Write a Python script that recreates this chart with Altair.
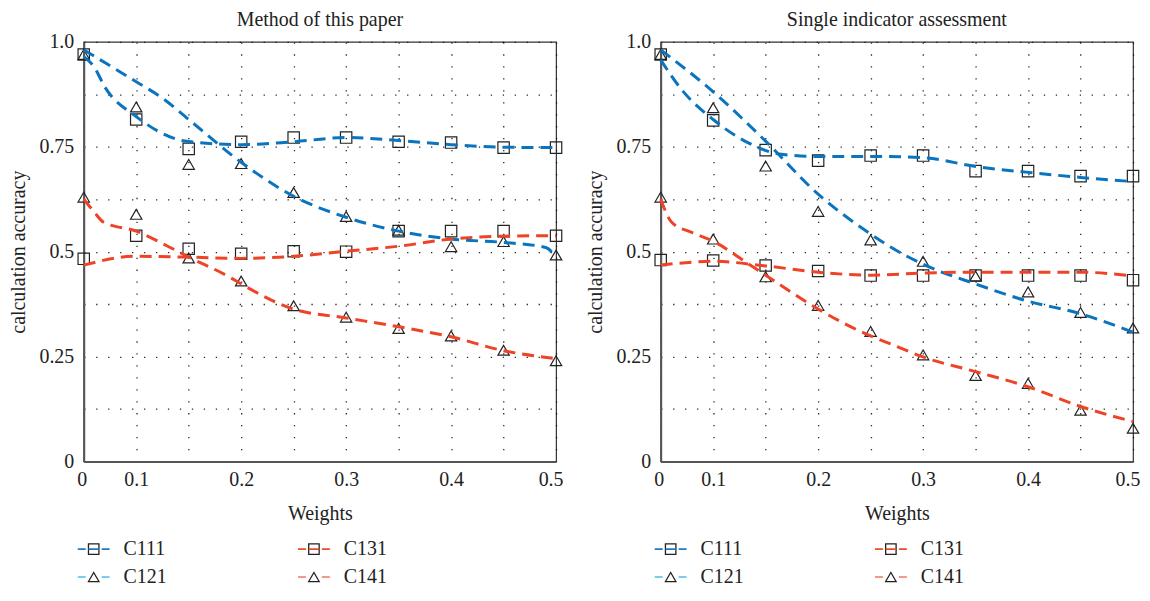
import altair as alt
import pandas as pd

# ---------------- data ----------------
WEIGHTS = [0, 0.1, 0.15, 0.2, 0.25, 0.3, 0.35, 0.4, 0.45, 0.5]
SERIES = ["C111", "C121", "C131", "C141"]
PANEL_TITLES = ["Method of this paper", "Single indicator assessment"]
X_TICK_LABELS = [0, 0.1, 0.2, 0.3, 0.4, 0.5]
Y_GRID = [0, 0.125, 0.25, 0.375, 0.5, 0.625, 0.75, 0.875, 1.0]
Y_TICK_LABELS = [0, 0.25, 0.5, 0.75, 1.0]

# markers, left panel (Method of this paper)
L_C111 = [0.970, 0.815, 0.745, 0.762, 0.772, 0.772, 0.762, 0.760, 0.748, 0.748]
L_C121 = [0.970, 0.845, 0.708, 0.710, 0.641, 0.584, 0.551, 0.512, 0.524, 0.492]
L_C131 = [0.483, 0.538, 0.507, 0.495, 0.501, 0.500, 0.549, 0.549, 0.549, 0.538]
L_C141 = [0.630, 0.589, 0.485, 0.430, 0.371, 0.344, 0.317, 0.299, 0.265, 0.240]

# markers, right panel (Single indicator assessment)
R_C111 = [0.970, 0.813, 0.742, 0.717, 0.729, 0.729, 0.692, 0.692, 0.680, 0.680]
R_C121 = [0.970, 0.843, 0.704, 0.596, 0.528, 0.477, 0.442, 0.404, 0.355, 0.318]
R_C131 = [0.480, 0.479, 0.467, 0.454, 0.443, 0.443, 0.443, 0.443, 0.443, 0.432]
R_C141 = [0.630, 0.530, 0.440, 0.372, 0.310, 0.254, 0.205, 0.186, 0.122, 0.079]

# fitted curves (dashed)
L_C111_FX = [0, 0.02, 0.04, 0.1, 0.14, 0.16, 0.2, 0.25, 0.3, 0.35, 0.4, 0.45, 0.5]
L_C111_FY = [0.965, 0.940, 0.893, 0.822, 0.767, 0.760, 0.755, 0.762, 0.772, 0.765, 0.755, 0.749, 0.748]
L_C121_FX = [0, 0.1, 0.125, 0.15, 0.2, 0.25, 0.3, 0.35, 0.4, 0.45, 0.49, 0.5]
L_C121_FY = [0.981, 0.905, 0.866, 0.815, 0.713, 0.632, 0.582, 0.549, 0.530, 0.522, 0.510, 0.487]
L_C131_FX = [0, 0.1, 0.15, 0.2, 0.25, 0.3, 0.35, 0.4, 0.45, 0.5]
L_C131_FY = [0.468, 0.489, 0.487, 0.484, 0.489, 0.501, 0.513, 0.530, 0.537, 0.538]
L_C141_FX = [0, 0.019, 0.038, 0.1, 0.13, 0.15, 0.187, 0.2, 0.25, 0.3, 0.35, 0.4, 0.45, 0.5]
L_C141_FY = [0.625, 0.596, 0.570, 0.549, 0.513, 0.487, 0.442, 0.423, 0.363, 0.342, 0.321, 0.297, 0.264, 0.245]

R_C111_FX = [0, 0.04, 0.1, 0.133, 0.165, 0.2, 0.25, 0.3, 0.35, 0.4, 0.45, 0.5]
R_C111_FY = [0.957, 0.886, 0.815, 0.760, 0.732, 0.727, 0.727, 0.724, 0.703, 0.689, 0.677, 0.667]
R_C121_FX = [0, 0.1, 0.1485, 0.2, 0.25, 0.269, 0.3, 0.35, 0.4, 0.45, 0.5]
R_C121_FY = [0.981, 0.881, 0.767, 0.637, 0.542, 0.511, 0.470, 0.423, 0.382, 0.352, 0.308]
R_C131_FX = [0, 0.1, 0.15, 0.2, 0.25, 0.3, 0.35, 0.4, 0.45, 0.5]
R_C131_FY = [0.468, 0.477, 0.466, 0.451, 0.444, 0.449, 0.451, 0.451, 0.451, 0.442]
R_C141_FX = [0, 0.021, 0.059, 0.1, 0.133, 0.15, 0.2, 0.25, 0.269, 0.3, 0.35, 0.4, 0.45, 0.5]
R_C141_FY = [0.625, 0.570, 0.546, 0.525, 0.472, 0.444, 0.363, 0.299, 0.280, 0.249, 0.214, 0.178, 0.131, 0.095]

# legend
LEG_NAMES = ["C111", "C131", "C121", "C141"]
LEG_COL = [0, 1, 0, 1]
LEG_ROW = [0, 0, 1, 1]
LEG_COLORS = ["#1f7cc1", "#ee4b2b", "#4dbfec", "#f07a60"]
LEG_MARKERS = ["square", "square", "triangle-up", "triangle-up"]

# ---------------- styling ----------------
FONT = "Liberation Serif"
FS = 20
LINE_COLORS = ["#0b74be", "#0b74be", "#ee4326", "#ee4326"]
MARKER_SHAPES = ["square", "triangle-up", "square", "triangle-up"]
W, H = 474, 421
DASH_SQ = "M-1,0H-0.5M-0.32,0H0.32M0.5,0H1"
DASH_TR = "M-1,0H-0.5M0.5,0H1"


def long_points(vals):
    rows = []
    for s, ys in zip(SERIES, vals):
        for w, y in zip(WEIGHTS, ys):
            rows.append({"w": w, "v": y, "series": s})
    return pd.DataFrame(rows)


def long_curves(xs_list, ys_list):
    rows = []
    for s, xs, ys in zip(SERIES, xs_list, ys_list):
        for i, (w, y) in enumerate(zip(xs, ys)):
            rows.append({"w": w, "v": y, "series": s, "o": i})
    return pd.DataFrame(rows)


xscale = alt.Scale(domain=[0, 0.1, 0.5], range=[0, W / 9, W], nice=False, zero=False)
yscale = alt.Scale(domain=[0, 1], nice=False)

xlab = "indexof([0, 0.1, 0.2, 0.3, 0.4, 0.5], datum.value) >= 0 ? toString(datum.value) : ''"
ylab = ("datum.value == 1 ? '1.0' : (indexof([0, 0.25, 0.5, 0.75], datum.value) >= 0 ? "
        "toString(datum.value) : '')")

x_axis = alt.Axis(values=WEIGHTS, labelExpr=xlab, title="Weights", grid=True,
                  ticks=False, labelPadding=8, titlePadding=14,
                  labelFlush=True, labelFlushOffset=7,
                  labelFont=FONT, titleFont=FONT, labelFontSize=FS, titleFontSize=FS)
y_axis = alt.Axis(values=Y_GRID, labelExpr=ylab, title="calculation accuracy", grid=True,
                  ticks=False, labelPadding=10, titlePadding=10, labelFlush=False,
                  labelFont=FONT, titleFont=FONT, labelFontSize=FS, titleFontSize=FS)


def panel(title, pts, curves):
    markers = alt.Chart(pts).mark_point(filled=False, size=130, strokeWidth=1.2, color="#222", opacity=1).encode(
        x=alt.X("w:Q", scale=xscale, axis=x_axis),
        y=alt.Y("v:Q", scale=yscale, axis=y_axis),
        shape=alt.Shape("series:N", scale=alt.Scale(domain=SERIES, range=MARKER_SHAPES), legend=None),
    )
    lines = alt.Chart(curves).mark_line(strokeDash=[12, 7], strokeWidth=3, interpolate="monotone").encode(
        x=alt.X("w:Q", scale=xscale),
        y=alt.Y("v:Q", scale=yscale),
        color=alt.Color("series:N", scale=alt.Scale(domain=SERIES, range=LINE_COLORS), legend=None),
        detail="series:N",
        order="o:Q",
    )
    plot = alt.layer(markers, lines).properties(
        width=W, height=H,
        title=alt.TitleParams(title, font=FONT, fontSize=FS, fontWeight="normal", color="#222", offset=2),
    )

    leg_df = pd.DataFrame({
        "name": LEG_NAMES, "col": LEG_COL, "row": LEG_ROW, "lc": LEG_COLORS,
        "mk": LEG_MARKERS,
        "path": [DASH_SQ if m == "square" else DASH_TR for m in LEG_MARKERS],
    })
    lx = alt.X("col:Q", scale=alt.Scale(domain=[0, 1], range=[10, 231]), axis=None)
    ly = alt.Y("row:Q", scale=alt.Scale(domain=[0, 1], range=[10, 38]), axis=None)
    leg_mk = alt.Chart(leg_df).mark_point(filled=False, size=110, strokeWidth=1.3, color="#222", opacity=1).encode(
        x=lx, y=ly, shape=alt.Shape("mk:N", scale=None))
    leg_ln = alt.Chart(leg_df).mark_point(filled=False, size=32 * 32, strokeWidth=1.6, opacity=1).encode(
        x=lx, y=ly, shape=alt.Shape("path:N", scale=None), color=alt.Color("lc:N", scale=None))
    leg_tx = alt.Chart(leg_df).mark_text(align="left", baseline="middle", dx=30, font=FONT,
                                          fontSize=FS, color="#222").encode(
        x=lx, y=ly, text="name:N")
    legend = alt.layer(leg_mk, leg_ln, leg_tx).properties(
        width=W, height=48, view=alt.ViewBackground(stroke="transparent"))
    return alt.vconcat(plot, legend, spacing=14)


left = panel(PANEL_TITLES[0], long_points([L_C111, L_C121, L_C131, L_C141]),
             long_curves([L_C111_FX, L_C121_FX, L_C131_FX, L_C141_FX],
                         [L_C111_FY, L_C121_FY, L_C131_FY, L_C141_FY]))
right = panel(PANEL_TITLES[1], long_points([R_C111, R_C121, R_C131, R_C141]),
              long_curves([R_C111_FX, R_C121_FX, R_C131_FX, R_C141_FX],
                          [R_C111_FY, R_C121_FY, R_C131_FY, R_C141_FY]))

chart = alt.hconcat(left, right, spacing=20).configure(
    padding={"left": 0, "top": 0, "right": 0, "bottom": 0},
    background="white",
).configure_view(
    stroke="#333", strokeWidth=1.2,
).configure_axis(
    labelFont=FONT, titleFont=FONT, labelFontSize=FS, titleFontSize=FS,
    labelColor="#222", titleColor="#222", titleFontWeight="normal",
    domainColor="#555", domainWidth=2,
    gridColor="#111", gridDash=[1.3, 10.7], gridWidth=1.3, gridOpacity=0.9,
)

chart.save("out.html", embed_options={"renderer": "svg", "actions": False})
